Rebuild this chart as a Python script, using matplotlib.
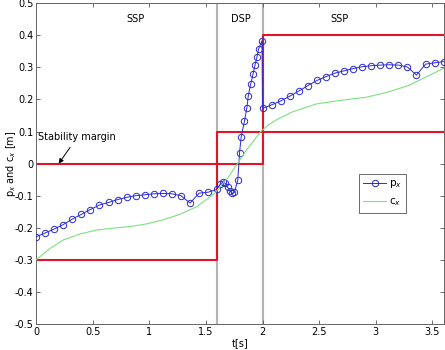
import numpy as np
import matplotlib.pyplot as plt

# p_x (ZMP) samples
t_px = [0.00, 0.08, 0.16, 0.24, 0.32, 0.40, 0.48, 0.56, 0.64, 0.72, 0.80,
        0.88, 0.96, 1.04, 1.12, 1.20, 1.28, 1.36, 1.44, 1.52, 1.60,
        1.625, 1.649, 1.672, 1.693, 1.714, 1.735, 1.752, 1.782, 1.797, 1.812,
        1.841, 1.862, 1.874, 1.895, 1.916, 1.933, 1.951, 1.966, 1.996,
        2.00, 2.08, 2.16, 2.24, 2.32, 2.40, 2.48, 2.56, 2.64, 2.72, 2.80,
        2.88, 2.96, 3.04, 3.12, 3.20, 3.28, 3.36, 3.44, 3.52, 3.60]
px = [-0.228, -0.216, -0.204, -0.190, -0.173, -0.158, -0.143, -0.129, -0.121, -0.112, -0.105,
      -0.100, -0.097, -0.094, -0.093, -0.094, -0.100, -0.123, -0.092, -0.089, -0.080,
      -0.064, -0.058, -0.061, -0.074, -0.084, -0.093, -0.089, -0.051, 0.033, 0.084,
      0.133, 0.174, 0.210, 0.247, 0.278, 0.306, 0.332, 0.358, 0.383,
      0.172, 0.183, 0.195, 0.210, 0.226, 0.243, 0.259, 0.271, 0.282, 0.289, 0.296,
      0.302, 0.305, 0.307, 0.308, 0.307, 0.301, 0.276, 0.310, 0.314, 0.318]

# c_x (CoM) curve
t_cx = [0.00, 0.125, 0.24, 0.39, 0.535, 0.68, 0.83, 0.975, 1.12, 1.27, 1.42, 1.50, 1.58,
        1.65, 1.70, 1.74, 1.78, 1.82, 1.86, 1.92, 1.985, 2.05, 2.12, 2.27, 2.475,
        2.71, 2.92, 3.12, 3.30, 3.45, 3.60]
cx = [-0.300, -0.264, -0.238, -0.219, -0.207, -0.201, -0.196, -0.188, -0.175, -0.158, -0.134, -0.113, -0.092,
      -0.061, -0.042, -0.020, 0.000, 0.022, 0.043, 0.070, 0.100, 0.120, 0.136, 0.162, 0.186,
      0.198, 0.207, 0.224, 0.245, 0.271, 0.297]

# stability margin bounds
t_bound = [0.0, 1.6, 1.6, 2.0, 2.0, 3.6]
upper = [0.0, 0.0, 0.1, 0.1, 0.4, 0.4]
lower = [-0.3, -0.3, 0.0, 0.0, 0.1, 0.1]

phase_lines = [1.6, 2.0]
phase_labels = [(0.88, 'SSP'), (1.81, 'DSP'), (2.68, 'SSP')]

fig = plt.figure(figsize=(4.45, 3.5), dpi=100)
ax = fig.add_axes([0.081, 0.074, 0.916, 0.917])

for x in phase_lines:
    ax.axvline(x, color='#b4b4b4', linewidth=1.5, zorder=1)

red = '#e0142a'
ax.plot(t_bound, upper, color=red, linewidth=1.5, zorder=2)
ax.plot(t_bound, lower, color=red, linewidth=1.5, zorder=2)

ax.plot(t_px, px, color='#2a2ad8', linewidth=0.7, marker='o', markersize=4.6,
        markerfacecolor='none', markeredgewidth=0.7, label='p$_x$', zorder=3)
ax.plot(t_cx, cx, color='#7ee07e', linewidth=0.8, label='c$_x$', zorder=3)

for x, s in phase_labels:
    ax.text(x, 0.45, s, ha='center', va='center', fontsize=7)

ax.annotate('Stability margin', xy=(0.2, 0.0), xytext=(0.02, 0.082),
            fontsize=7, ha='left', va='center',
            arrowprops=dict(arrowstyle='-|>', color='black', lw=0.7,
                            shrinkA=2, shrinkB=0, mutation_scale=7))

ax.set_xlim(0, 3.6)
ax.set_ylim(-0.5, 0.5)
ax.set_xticks([0, 0.5, 1, 1.5, 2, 2.5, 3, 3.5])
ax.set_xticklabels(['0', '0.5', '1', '1.5', '2', '2.5', '3', '3.5'])
ax.set_yticks(np.round(np.arange(-0.5, 0.51, 0.1), 1))
ax.set_yticklabels(['-0.5', '-0.4', '-0.3', '-0.2', '-0.1', '0', '0.1', '0.2', '0.3', '0.4', '0.5'])
ax.tick_params(direction='in', length=3, width=0.6, labelsize=7, top=True, right=True,
               color='#555555', pad=2)
for sp in ax.spines.values():
    sp.set_color('#666666')
    sp.set_linewidth(0.7)

ax.set_xlabel('t[s]', fontsize=7, labelpad=1)
ax.set_ylabel('p$_x$ and c$_x$ [m]', fontsize=7)
ax.yaxis.set_label_coords(-0.044, 0.5)

leg = ax.legend(loc='upper left', bbox_to_anchor=(0.792, 0.467), fontsize=7.5,
                frameon=True, fancybox=False, handlelength=2.2, borderpad=0.4,
                labelspacing=0.6, handletextpad=0.3, borderaxespad=0)
leg.get_frame().set_edgecolor('#444444')
leg.get_frame().set_linewidth(0.7)

fig.savefig('out.png', dpi=100)
